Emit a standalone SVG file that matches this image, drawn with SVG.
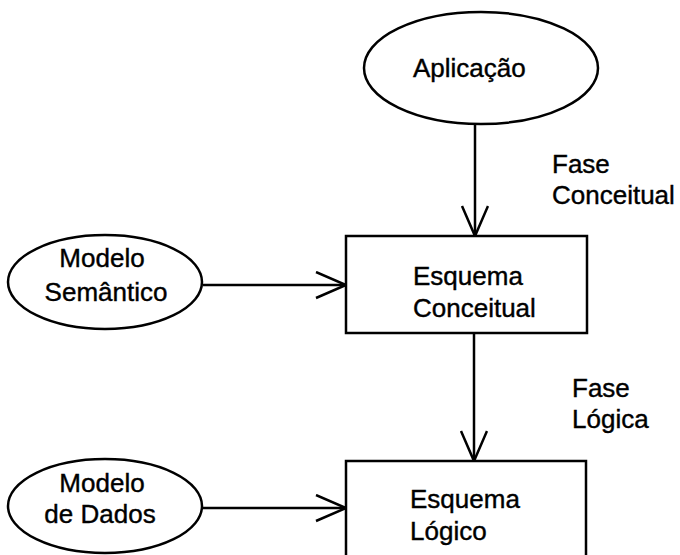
<svg xmlns="http://www.w3.org/2000/svg" width="680" height="555" viewBox="0 0 680 555">
  <style>
    .shape { fill: #ffffff; stroke: #000000; stroke-width: 2.5; }
    .edge { fill: none; stroke: #000000; stroke-width: 2.5; }
    .label { font-family: "Liberation Sans", Arial, sans-serif; font-size: 26px; fill: #000000; stroke: #000000; stroke-width: 0.4; }
    .mid { text-anchor: middle; }
  </style>
  <defs>
    <marker id="openArrow" markerUnits="userSpaceOnUse" markerWidth="40" markerHeight="34" refX="31" refY="14" orient="auto">
      <path d="M1,1 L31,14 L1,27" fill="none" stroke="#000000" stroke-width="2.5"/>
    </marker>
  </defs>
  <rect width="680" height="555" fill="#ffffff"/>

  <g id="connectors">
    <line class="edge" x1="475" y1="124" x2="475" y2="236" marker-end="url(#openArrow)"/>
    <line class="edge" x1="474" y1="333" x2="474" y2="461" marker-end="url(#openArrow)"/>
    <line class="edge" x1="203" y1="285" x2="346" y2="285" marker-end="url(#openArrow)"/>
    <line class="edge" x1="202" y1="508" x2="346" y2="508" marker-end="url(#openArrow)"/>
  </g>

  <g id="aplicacao">
    <ellipse class="shape" cx="481" cy="68" rx="117" ry="56"/>
    <text class="label" x="413" y="77">Aplicação</text>
  </g>

  <g id="modelo-semantico">
    <ellipse class="shape" cx="105" cy="282" rx="97" ry="47"/>
    <text class="label mid" x="102" y="267">Modelo</text>
    <text class="label mid" x="106" y="301">Semântico</text>
  </g>

  <g id="esquema-conceitual">
    <rect class="shape" x="346" y="236" width="241" height="97"/>
    <text class="label" x="413" y="285">Esquema</text>
    <text class="label" x="413" y="317">Conceitual</text>
  </g>

  <g id="fase-conceitual">
    <text class="label" x="552" y="173">Fase</text>
    <text class="label" x="552" y="204">Conceitual</text>
  </g>

  <g id="fase-logica">
    <text class="label" x="572" y="397">Fase</text>
    <text class="label" x="572" y="428">Lógica</text>
  </g>

  <g id="modelo-dados">
    <ellipse class="shape" cx="105" cy="506" rx="97" ry="47"/>
    <text class="label mid" x="102" y="492">Modelo</text>
    <text class="label mid" x="100" y="523">de Dados</text>
  </g>

  <g id="esquema-logico">
    <rect class="shape" x="346" y="461" width="240" height="110"/>
    <text class="label" x="410" y="508">Esquema</text>
    <text class="label" x="410" y="540">Lógico</text>
  </g>
</svg>
